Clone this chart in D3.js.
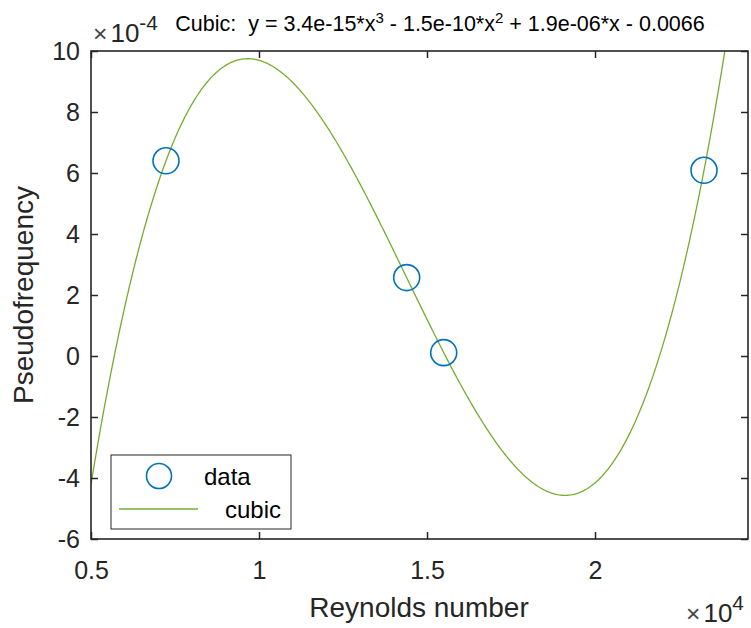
<!DOCTYPE html>
<html>
<head>
<meta charset="utf-8">
<script src="https://cdn.jsdelivr.net/npm/d3@7"></script>
<style>
  html, body { margin: 0; padding: 0; background: #fff; }
  svg { display: block; font-family: "Liberation Sans", Arial, Helvetica, sans-serif; }
  .title { white-space: pre; }
</style>
</head>
<body>
<svg id="chart" width="751" height="628"></svg>
<script>
// Measured samples: Reynolds number vs. pseudofrequency
const reynolds = [7232, 14395, 15497, 23244];
const pseudofreq = [6.40e-4, 2.57e-4, 0.11e-4, 6.09e-4];

// Axis settings
const xDomain = [5000, 24553];
const yDomain = [-6e-4, 10e-4];
const xTicks = [5000, 10000, 15000, 20000];
const yTicks = [-6e-4, -4e-4, -2e-4, 0, 2e-4, 4e-4, 6e-4, 8e-4, 10e-4];

const titleParts = [
  ["Cubic:  y = 3.4e-15*x", false], ["3", true],
  [" - 1.5e-10*x", false], ["2", true],
  [" + 1.9e-06*x - 0.0066", false]
];
const legendLabels = ["data", "cubic"];

const colData = "#0072BD";
const colFit = "#77AC30";
const colAxis = "#262626";

const svg = d3.select("#chart");
const L = 91, R = 748, T = 51, B = 539;

const x = d3.scaleLinear().domain(xDomain).range([L, R]);
const y = d3.scaleLinear().domain(yDomain).range([B, T]);

// Least-squares polynomial fit (degree 3), x scaled by 1e4 for conditioning
function polyfit(xs, ys, deg) {
  const n = deg + 1;
  const A = Array.from({length: n}, () => new Array(n + 1).fill(0));
  xs.forEach((xv, k) => {
    const s = xv / 1e4;
    for (let i = 0; i < n; i++) {
      for (let j = 0; j < n; j++) A[i][j] += Math.pow(s, i + j);
      A[i][n] += ys[k] * Math.pow(s, i);
    }
  });
  for (let c = 0; c < n; c++) {
    let p = c;
    for (let r = c + 1; r < n; r++) if (Math.abs(A[r][c]) > Math.abs(A[p][c])) p = r;
    [A[c], A[p]] = [A[p], A[c]];
    for (let r = 0; r < n; r++) {
      if (r === c) continue;
      const f = A[r][c] / A[c][c];
      for (let k = c; k <= n; k++) A[r][k] -= f * A[c][k];
    }
  }
  const coef = A.map((row, i) => row[n] / row[i]);
  return xv => coef.reduce((acc, c, i) => acc + c * Math.pow(xv / 1e4, i), 0);
}
const fit = polyfit(reynolds, pseudofreq, 3);
const fitX = d3.range(0, 401).map(i => xDomain[0] + (xDomain[1] - xDomain[0]) * i / 400);

svg.append("defs").append("clipPath").attr("id", "plotClip")
  .append("rect").attr("x", L).attr("y", T).attr("width", R - L).attr("height", B - T);

// Fitted curve
svg.append("path")
  .attr("clip-path", "url(#plotClip)")
  .attr("d", d3.line().x(d => x(d)).y(d => y(fit(d)))(fitX))
  .attr("fill", "none").attr("stroke", colFit).attr("stroke-width", 1.3);

// Data markers
svg.append("g").selectAll("circle").data(reynolds).join("circle")
  .attr("cx", d => x(d)).attr("cy", (d, i) => y(pseudofreq[i]))
  .attr("r", 13).attr("fill", "none").attr("stroke", colData).attr("stroke-width", 1.6);

// Axes (box with inward ticks)
const tickLen = 7;
const fmtX = d => String(+(d / 1e4).toFixed(2));
const fmtY = d => String(Math.round(d / 1e-4));

function styleAxis(g) {
  g.select(".domain").remove();
  g.selectAll(".tick line").attr("stroke", colAxis).attr("stroke-width", 1.5);
  g.selectAll(".tick text").attr("fill", colAxis).style("font-size", "25px")
    .style("font-family", "'Liberation Sans', Arial, sans-serif");
}
svg.append("g").attr("transform", `translate(0,${B})`)
  .call(d3.axisBottom(x).tickValues(xTicks).tickFormat(fmtX).tickSizeInner(-tickLen).tickSizeOuter(0).tickPadding(22))
  .call(styleAxis);
svg.append("g").attr("transform", `translate(0,${T})`)
  .call(d3.axisTop(x).tickValues(xTicks).tickFormat("").tickSizeInner(-tickLen).tickSizeOuter(0))
  .call(styleAxis);
svg.append("g").attr("transform", `translate(${L},0)`)
  .call(d3.axisLeft(y).tickValues(yTicks).tickFormat(fmtY).tickSizeInner(-tickLen).tickSizeOuter(0).tickPadding(11))
  .call(styleAxis);
svg.append("g").attr("transform", `translate(${R},0)`)
  .call(d3.axisRight(y).tickValues(yTicks).tickFormat("").tickSizeInner(-tickLen).tickSizeOuter(0))
  .call(styleAxis);

svg.append("rect").attr("x", L).attr("y", T).attr("width", R - L).attr("height", B - T)
  .attr("fill", "none").attr("stroke", colAxis).attr("stroke-width", 1.6);

// Exponent labels
function expLabel(xp, yp, exp, size) {
  const t = svg.append("text").attr("x", xp).attr("y", yp).attr("fill", colAxis)
    .style("font-size", size + "px");
  t.append("tspan").text("\u00D7").style("font-size", (size * 0.95) + "px").attr("fill", "#444");
  t.append("tspan").text("10").attr("dx", 3);
  t.append("tspan").text(exp).attr("dy", -size * 0.45).style("font-size", (size * 0.8) + "px");
}
expLabel(93, 42, "-4", 26);
expLabel(686, 622, "4", 26);

// Axis titles
svg.append("text").attr("x", 419).attr("y", 617).attr("text-anchor", "middle")
  .attr("fill", colAxis).style("font-size", "28px").text("Reynolds number");
svg.append("text").attr("transform", `translate(33,295) rotate(-90)`)
  .attr("text-anchor", "middle").attr("fill", colAxis).style("font-size", "28px").text("Pseudofrequency");

// Title with superscripts
const title = svg.append("text").attr("class", "title").attr("x", 440).attr("y", 31).attr("text-anchor", "middle")
  .attr("fill", "#000").style("font-size", "21.5px");
titleParts.forEach(([s, sup], i) => {
  const ts = title.append("tspan").text(s);
  if (sup) ts.attr("dy", -8).style("font-size", "15px");
  else if (i > 0) ts.attr("dy", 8);
});

// Legend
const lg = svg.append("g");
lg.append("rect").attr("x", 111).attr("y", 455).attr("width", 180).attr("height", 74)
  .attr("fill", "#fff").attr("stroke", colAxis).attr("stroke-width", 1);
lg.append("circle").attr("cx", 159).attr("cy", 476).attr("r", 12.5)
  .attr("fill", "none").attr("stroke", colData).attr("stroke-width", 1.6);
lg.append("line").attr("x1", 119).attr("x2", 198).attr("y1", 509).attr("y2", 509)
  .attr("stroke", colFit).attr("stroke-width", 1.3);
lg.append("text").attr("x", 204).attr("y", 485).attr("fill", "#000").style("font-size", "24px").text(legendLabels[0]);
lg.append("text").attr("x", 225).attr("y", 518).attr("fill", "#000").style("font-size", "24px").text(legendLabels[1]);
</script>
</body>
</html>
